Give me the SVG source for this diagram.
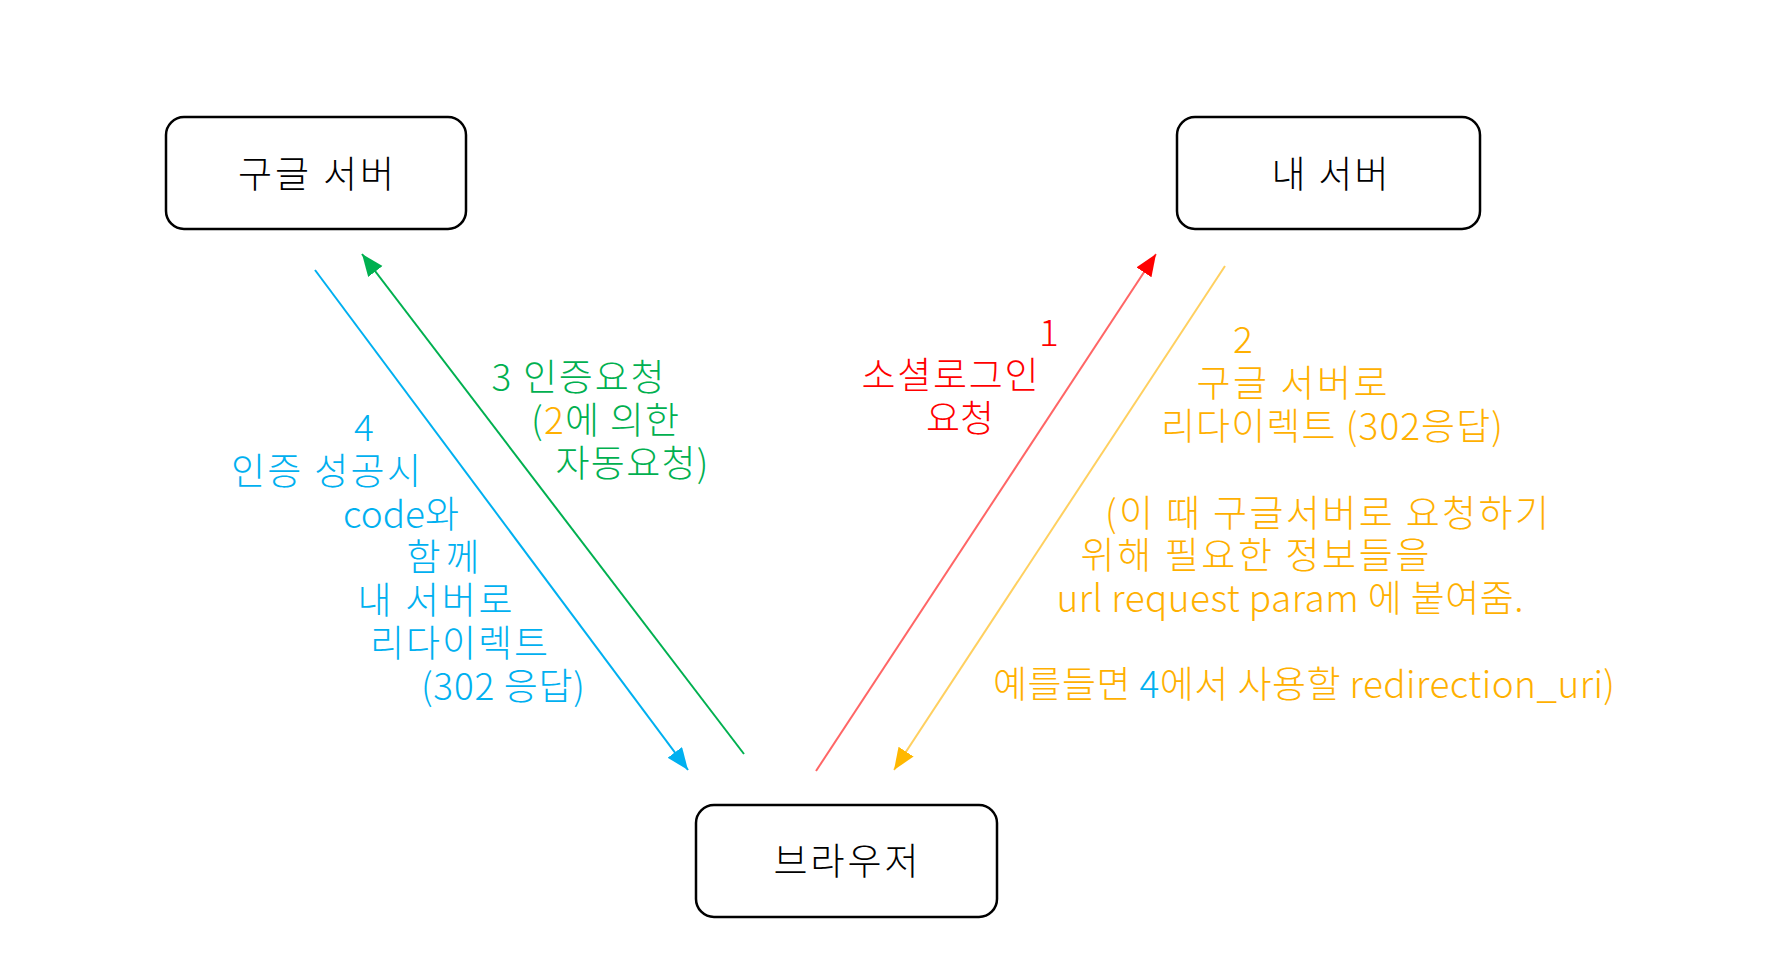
<svg xmlns="http://www.w3.org/2000/svg" width="1770" height="964" viewBox="0 0 1770 964">
<style>
.box{fill:#fff;stroke:#000;stroke-width:2.5}
text{font-family:"Noto Sans CJK KR","Noto Sans",sans-serif;font-size:37px;font-weight:300;text-anchor:middle}
.nt{fill:#000}
.b{fill:#00B0F0}
.g{fill:#00B050}
.r{fill:#FF0000}
.y{fill:#FFB000}
.con{fill:none}
</style>
<defs>
<marker id="mb" markerUnits="userSpaceOnUse" markerWidth="24" markerHeight="20" refX="22" refY="9" orient="auto"><path d="M0,0 L22,9 L0,18 z" fill="#00B0F0"/></marker>
<marker id="mg" markerUnits="userSpaceOnUse" markerWidth="24" markerHeight="20" refX="22" refY="9" orient="auto"><path d="M0,0 L22,9 L0,18 z" fill="#00B050"/></marker>
<marker id="mr" markerUnits="userSpaceOnUse" markerWidth="24" markerHeight="20" refX="22" refY="9" orient="auto"><path d="M0,0 L22,9 L0,18 z" fill="#FF0000"/></marker>
<marker id="my" markerUnits="userSpaceOnUse" markerWidth="24" markerHeight="20" refX="22" refY="9" orient="auto"><path d="M0,0 L22,9 L0,18 z" fill="#FFB800"/></marker>
</defs>
<rect width="1770" height="964" fill="#fff"/>
<g id="connectors">
<line class="con" x1="315" y1="270" x2="688" y2="770" stroke="#00B0F0" stroke-width="2" marker-end="url(#mb)"/>
<line class="con" x1="744" y1="754" x2="362" y2="254" stroke="#00B050" stroke-width="2" marker-end="url(#mg)"/>
<line class="con" x1="816" y1="771" x2="1156" y2="254" stroke="#FF6666" stroke-width="2" marker-end="url(#mr)"/>
<line class="con" x1="1225" y1="266" x2="894" y2="770" stroke="#FFD060" stroke-width="2" marker-end="url(#my)"/>
</g>
<g id="google-server">
<rect class="box" x="166" y="117" width="300" height="112" rx="18"/>
<text class="nt" x="316" y="188" textLength="156" lengthAdjust="spacing">구글 서버</text>
</g>
<g id="my-server">
<rect class="box" x="1177" y="117" width="303" height="112" rx="18"/>
<text class="nt" x="1330" y="188" textLength="117" lengthAdjust="spacing">내 서버</text>
</g>
<g id="browser">
<rect class="box" x="696" y="805" width="301" height="112" rx="18"/>
<text class="nt" x="846" y="875" textLength="145" lengthAdjust="spacing">브라우저</text>
</g>
<g id="label-4">
<text class="b" x="364" y="441">4</text>
<text class="b" x="326" y="485" textLength="190" lengthAdjust="spacing">인증 성공시</text>
<text class="b" x="401" y="528" textLength="116" lengthAdjust="spacing">code와</text>
<text class="b" x="443" y="571" textLength="73" lengthAdjust="spacing">함께</text>
<text class="b" x="435" y="614" textLength="155" lengthAdjust="spacing">내 서버로</text>
<text class="b" x="459" y="657" textLength="178" lengthAdjust="spacing">리다이렉트</text>
<text class="b" x="503" y="700" textLength="164" lengthAdjust="spacing">(302 응답)</text>
</g>
<g id="label-3">
<text class="g" x="578" y="391" textLength="173" lengthAdjust="spacing">3 인증요청</text>
<text class="g" x="605" y="434" textLength="148" lengthAdjust="spacing">(<tspan class="y">2</tspan>에 의한</text>
<text class="g" x="632" y="477" textLength="153" lengthAdjust="spacing">자동요청)</text>
</g>
<g id="label-1">
<text class="r" x="1049" y="346">1</text>
<text class="r" x="950" y="389" textLength="177" lengthAdjust="spacing">소셜로그인</text>
<text class="r" x="960" y="432" textLength="68" lengthAdjust="spacing">요청</text>
</g>
<g id="label-2">
<text class="y" x="1243" y="353">2</text>
<text class="y" x="1292" y="397" textLength="191" lengthAdjust="spacing">구글 서버로</text>
<text class="y" x="1332" y="440" textLength="342" lengthAdjust="spacing">리다이렉트 (302응답)</text>
<text class="y" x="1327" y="527" textLength="444" lengthAdjust="spacing">(이 때 구글서버로 요청하기</text>
<text class="y" x="1255" y="569" textLength="349" lengthAdjust="spacing">위해 필요한 정보들을</text>
<text class="y" x="1290" y="612" textLength="467" lengthAdjust="spacing">url request param 에 붙여줌.</text>
<text class="y" x="1304" y="698" textLength="622" lengthAdjust="spacing">예를들면 <tspan class="b">4</tspan>에서 사용할 redirection_uri)</text>
</g>
</svg>
